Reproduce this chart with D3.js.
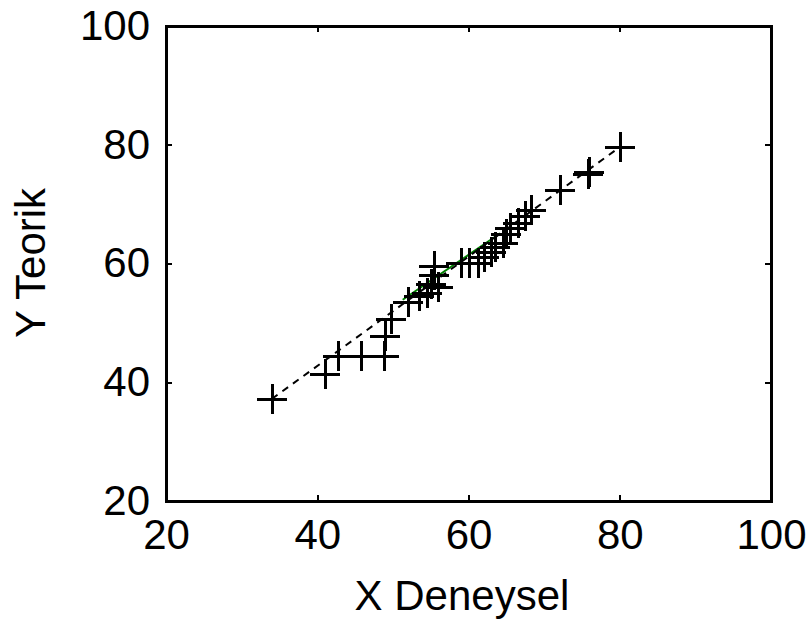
<!DOCTYPE html>
<html><head><meta charset="utf-8">
<script src="https://cdn.jsdelivr.net/npm/d3@7"></script>
<style>html,body{margin:0;padding:0;background:#fff;}</style>
</head><body>
<script>
const xTicks = [20, 40, 60, 80, 100];
const yTicks = [20, 40, 60, 80, 100];
const xDeneysel = [34.0, 41.0, 42.7, 45.8, 48.8, 49.0, 49.8, 52.0, 53.5, 54.5, 55.0, 55.5, 55.5, 56.0, 59.0, 60.1, 61.2, 62.0, 63.0, 63.5, 64.5, 65.0, 65.5, 66.5, 67.5, 68.3, 72.1, 75.8, 76.0, 80.0];
const yTeorik   = [37.2, 41.4, 44.4, 44.4, 44.4, 47.8, 50.6, 53.5, 54.5, 55.0, 56.5, 58.0, 59.5, 56.0, 60.1, 60.1, 60.1, 61.1, 62.0, 62.8, 63.5, 65.0, 66.0, 66.8, 68.0, 69.0, 72.4, 75.0, 75.4, 79.6];
const fitX = [34.0, 80.0];
const fitY = [37.2, 79.6];
const greenX = [51.3, 64.2];
const greenY = [53.9, 65.1];

const W = 807, H = 626;
const svg = d3.select("body").append("svg").attr("width", W).attr("height", H);
const x = d3.scaleLinear().domain([20, 100]).range([166, 771]);
const y = d3.scaleLinear().domain([20, 100]).range([501, 26]);
const font = "'Liberation Sans', Arial, sans-serif";

// lines
const line = d3.line().x(d => x(d[0])).y(d => y(d[1]));
svg.append("path").datum(greenX.map((v, i) => [v, greenY[i]]))
  .attr("d", line).attr("fill", "none").attr("stroke", "#008000").attr("stroke-width", 2);
svg.append("path").datum(fitX.map((v, i) => [v, fitY[i]]))
  .attr("d", line).attr("fill", "none").attr("stroke", "#000").attr("stroke-width", 2)
  .attr("stroke-dasharray", "7,6");

// markers
const s = 15;
const g = svg.append("g").attr("stroke", "#000").attr("stroke-width", 3).attr("shape-rendering", "crispEdges");
xDeneysel.forEach((v, i) => {
  const cx = Math.round(x(v)), cy = Math.round(y(yTeorik[i]));
  g.append("line").attr("x1", cx - s).attr("x2", cx + s).attr("y1", cy).attr("y2", cy);
  g.append("line").attr("x1", cx).attr("x2", cx).attr("y1", cy - s).attr("y2", cy + s);
});

// frame
svg.append("rect").attr("x", 166).attr("y", 26).attr("width", 605).attr("height", 475)
  .attr("fill", "none").attr("stroke", "#000").attr("stroke-width", 3).attr("shape-rendering", "crispEdges");

// axes with inner ticks
const tl = 6;
const axB = d3.axisBottom(x).tickValues(xTicks).tickSizeInner(-tl).tickSizeOuter(0).tickPadding(18);
const axT = d3.axisTop(x).tickValues(xTicks).tickSizeInner(-tl).tickSizeOuter(0).tickFormat("");
const axL = d3.axisLeft(y).tickValues(yTicks).tickSizeInner(-tl).tickSizeOuter(0).tickPadding(16);
const axR = d3.axisRight(y).tickValues(yTicks).tickSizeInner(-tl).tickSizeOuter(0).tickFormat("");
function style(gg) {
  gg.select(".domain").remove();
  gg.selectAll(".tick line").attr("stroke", "#000").attr("stroke-width", 2).attr("shape-rendering", "crispEdges");
  gg.selectAll("text").attr("font-family", font).attr("font-size", 42).attr("fill", "#000");
}
svg.append("g").attr("transform", "translate(0,501)").call(axB).call(style);
svg.append("g").attr("transform", "translate(0,26)").call(axT).call(style);
svg.append("g").attr("transform", "translate(166,0)").call(axL).call(style);
svg.append("g").attr("transform", "translate(771,0)").call(axR).call(style);

svg.append("text").attr("x", 462).attr("y", 610).attr("text-anchor", "middle")
  .attr("font-family", font).attr("font-size", 42).text("X Deneysel");
svg.append("text").attr("transform", "translate(45,263) rotate(-90)").attr("text-anchor", "middle")
  .attr("font-family", font).attr("font-size", 42).text("Y Teorik");
</script>
</body></html>
